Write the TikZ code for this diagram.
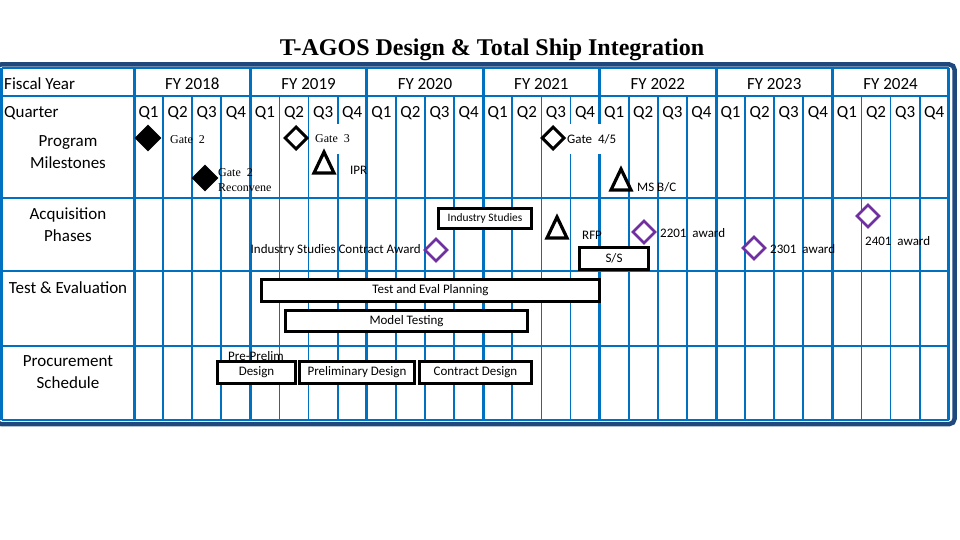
\documentclass[tikz,border=0pt]{standalone}
\usepackage{fontspec}
\setmainfont{Carlito}
\newfontfamily\gateserif{Liberation Serif}
\usetikzlibrary{positioning, shapes.geometric}
\definecolor{gridblue}{RGB}{0,112,192}
\definecolor{framenavy}{RGB}{31,73,125}
\definecolor{awardpurple}{RGB}{112,48,160}
\tikzset{
  hdr/.style={font=\fontsize{17}{22}\selectfont, align=center, inner sep=0pt},
  bar/.style={draw=black, line width=3.4pt, fill=white, inner sep=0pt, font=\fontsize{13}{14}\selectfont},
  gatefull/.style={diamond, fill=black, minimum size=27pt, inner sep=0pt},
  gateopen/.style={diamond, draw=black, line width=3pt, fill=white, minimum size=23pt, inner sep=0pt},
  award/.style={diamond, draw=awardpurple, line width=2.6pt, fill=white, minimum size=23pt, inner sep=0pt},
  tri/.style={draw=black, line width=3.2pt, fill=white, line join=miter},
  note/.style={font=\fontsize{13}{15}\selectfont, inner sep=0pt, anchor=west},
  snote/.style={font=\gateserif\fontsize{12}{15}\selectfont, inner sep=0pt, anchor=west, align=left},
  qline/.style={gridblue, line width=1.7pt},
  fyline/.style={gridblue, line width=3pt},
  rowline/.style={gridblue, line width=2.6pt},
}

\begin{document}
\begin{tikzpicture}[x=1pt, y=-1pt]
        \useasboundingbox (0,0) rectangle (960,540);
        % title and frame
        \node[font=\gateserif\bfseries\fontsize{24}{26}\selectfont, inner sep=0pt] (title) at (492,50) {T-AGOS Design \& Total Ship Integration};
        \draw[framenavy, line width=4.5pt, rounded corners=5pt, fill=white] (-4,64.5) rectangle (954.5,424);

        % grid
        \foreach \k in {1,...,27}
            \draw[qline] ({134+29.1*\k},96) -- ({134+29.1*\k},420);
        \foreach \k in {0,...,7}
            \draw[fyline] ({134+116.4*\k},68) -- ({134+116.4*\k},420);
        \draw[fyline] (1.5,68) -- (1.5,420);
        \foreach \y in {68, 96, 198, 271, 346, 420}
            \draw[rowline] (1.5,\y) -- (949,\y);

        % headers
        \node[hdr, anchor=west] (fiscal) at (4,84) {Fiscal Year};
        \node[hdr, anchor=west] (quarter) at (4,113) {Quarter};
        \node[hdr] (progms) at (68,152) {Program\\Milestones};
        \node[hdr] (acqph) at (68,225) {Acquisition\\Phases};
        \node[hdr] (testev) at (68,288) {Test \& Evaluation};
        \node[hdr] (procsch) at (68,372) {Procurement\\Schedule};
        \foreach \yr [count=\i from 0] in {2018,...,2024}
        {
            \node[hdr] (fy\yr) at ({134+116.4*(\i+0.5)},84) {FY \yr};
            \foreach \q in {1,...,4}
                \node[hdr] (q\yr\q) at ({134+116.4*\i+29.1*(\q-0.5)},113) {Q\q};
        }

        % program milestones
        \node[snote] (gatetwolbl) at (170,140) {Gate\ \ 2};
        \node[gatefull] (gatetwo) at (148,138) {};
        \node[snote] (gatetworlbl) at (218,180) {Gate\ \ 2\\Reconvene};
        \node[gatefull] (gatetwor) at (205,178) {};
        \node[snote, fill=white, inner xsep=4pt, minimum height=30pt] (gatethreelbl) at (311,139) {Gate\ \ 3};
        \node[gateopen] (gatethree) at (296,138) {};
        \node[note, fill=white, inner xsep=2pt, minimum height=30pt] (gatefourlbl) at (565,139) {Gate\ \ 4/5};
        \node[gateopen] (gatefour) at (553,138) {};
        \foreach \name/\x/\y in {ipr/324/163, rfp/557/228, msbc/621/180}
        {
            \coordinate (\name) at (\x,\y);
            \draw[tri] (\name) ++(0,-11) -- ++(10,21) -- ++(-20,0) -- cycle;
        }
        \node[note] (iprlbl) at (350,170) {IPR};
        \node[note] (msbclbl) at (637,187) {MS B/C};

        % acquisition phases
        \node[bar, minimum width=93pt, minimum height=20pt, font=\fontsize{11.4}{12}\selectfont] (indstudy) at (485,218.5) {Industry Studies};
        \node[bar, minimum width=69pt, minimum height=22pt] (ss) at (614,258.5) {S/S};
        \node[note] (rfplbl) at (582,235) {RFP};
        \node[note, anchor=east] (iscawardlbl) at (421,250) {Industry Studies Contract Award};
        \node[award] (iscaward) at (436,250) {};
        \foreach \name/\x/\y/\lx/\ly/\lbl in {
            awardA/644/232/660/233/2201,
            awardB/754/248/770/249/2301,
            awardC/868/216/865/241/2401}
        {
            \node[award] (\name) at (\x,\y) {};
            \node[note] (\name lbl) at (\lx,\ly) {\lbl\ \ award};
        }

        % test and evaluation
        \node[bar, minimum width=338pt, minimum height=22pt] (teplan) at (430.5,290.5) {Test and Eval Planning};
        \node[bar, minimum width=242pt, minimum height=21pt] (modeltest) at (406.5,321) {Model Testing};

        % procurement schedule
        \node[note] (preprelim) at (228,356) {Pre-Prelim};
        \node[bar, minimum width=78pt, minimum height=22pt] (ppdesign) at (256.5,372.5) {Design};
        \node[bar, minimum width=115pt, minimum height=22pt] (prelim) at (357,372.5) {Preliminary Design};
        \node[bar, minimum width=112pt, minimum height=22pt] (contract) at (475.5,372.5) {Contract Design};
    \end{tikzpicture}
\end{document}
